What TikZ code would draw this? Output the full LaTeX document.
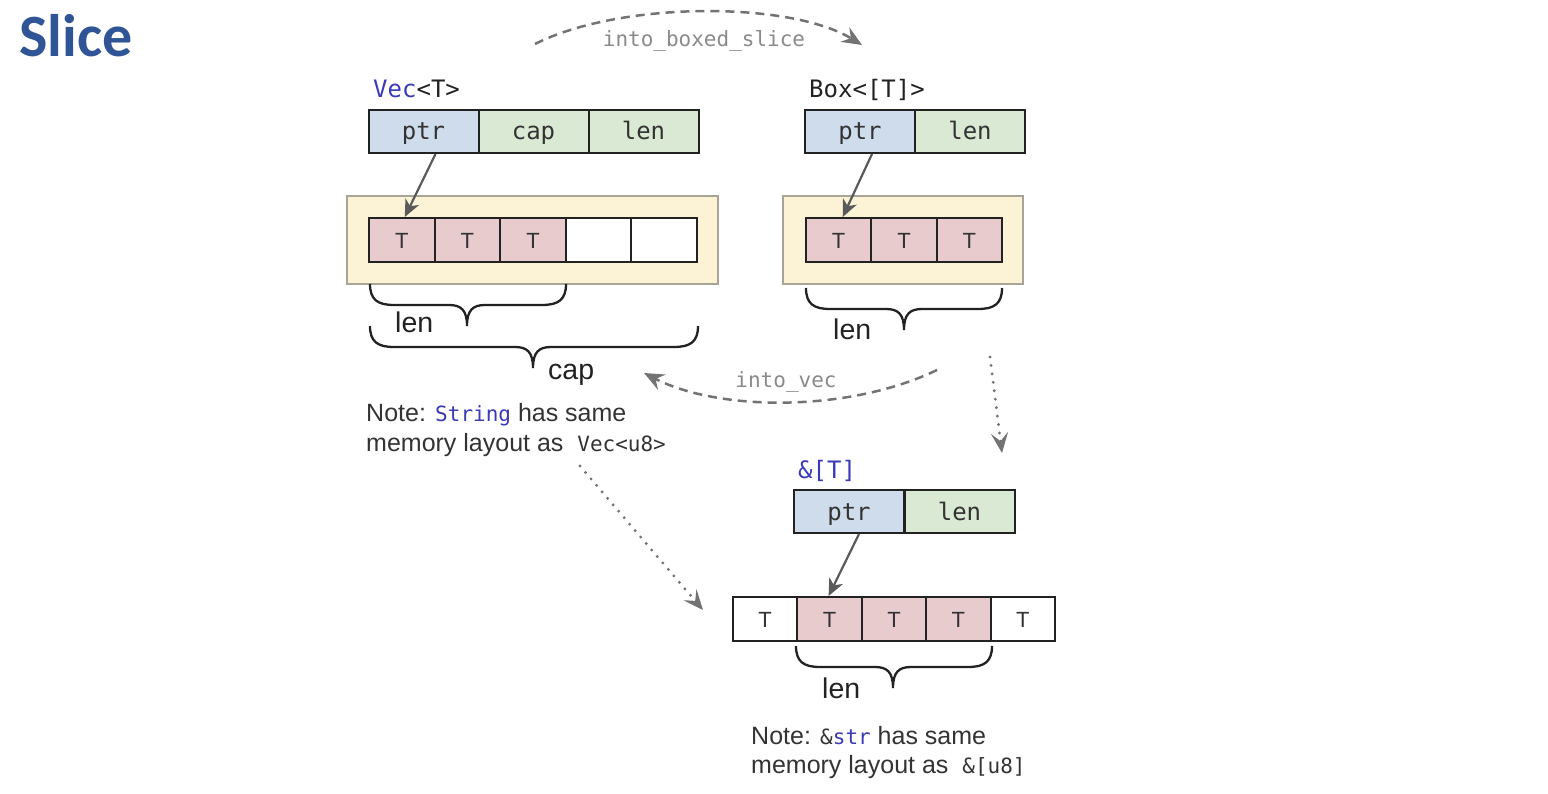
\documentclass[tikz,border=0pt]{standalone}
\usepackage{fontspec}
\setmainfont{Liberation Sans}
\setmonofont{DejaVu Sans Mono}
\newfontfamily\titlefont{Carlito}
\usetikzlibrary{arrows.meta}

\definecolor{titleblue}{HTML}{2F5597}
\definecolor{codeblue}{HTML}{3B3BB8}
\definecolor{ptrblue}{HTML}{CFDCEC}
\definecolor{fieldgreen}{HTML}{D9E9D3}
\definecolor{elempink}{HTML}{E8CBCC}
\definecolor{heapyellow}{HTML}{FCF2D6}
\definecolor{heapborder}{HTML}{A8A598}
\definecolor{arrowgrey}{HTML}{5A5A5A}
\definecolor{labelgrey}{HTML}{8A8A8A}
\definecolor{inkdark}{HTML}{222222}
\definecolor{textdark}{HTML}{333333}

\newcommand{\code}[1]{{\fontsize{21}{25}\selectfont\ttfamily #1}}
\newcommand{\drawcurly}[4]{%
  \draw[bracestyle] (#1,#3) .. controls (#1,{#3+16}) and ({#1+8},{#3+21}) .. ({#1+24},{#3+21})
   -- ({#4-18},{#3+21}) .. controls ({#4-6},{#3+21}) and (#4,{#3+26}) .. (#4,{#3+42})
   .. controls (#4,{#3+26}) and ({#4+6},{#3+21}) .. ({#4+18},{#3+21})
   -- ({#2-24},{#3+21}) .. controls ({#2-8},{#3+21}) and (#2,{#3+16}) .. (#2,#3);}

\tikzset{
  field/.style={draw=inkdark, line width=2pt, minimum height=43pt, minimum width=110pt,
    inner sep=0pt, font=\fontsize{24}{28}\selectfont\ttfamily, text=textdark,
    text height=17pt, text depth=0pt},
  elem/.style={draw=inkdark, line width=2pt, minimum height=44pt, minimum width=65.6pt,
    inner sep=0pt, font=\fontsize{22}{26}\selectfont, text=textdark,
    text height=17pt, text depth=0pt},
  heap/.style={draw=heapborder, fill=heapyellow, line width=2pt, minimum height=88pt, inner sep=0pt},
  typelabel/.style={anchor=base west, inner sep=0pt, font=\fontsize{24}{28}\selectfont\ttfamily, text=inkdark},
  notetext/.style={anchor=base west, inner sep=0pt, font=\fontsize{25}{30}\selectfont, text=textdark},
  bracelabel/.style={anchor=base west, inner sep=0pt, font=\fontsize{28.5}{32}\selectfont, text=inkdark},
  arclabel/.style={anchor=base, inner sep=0pt, font=\fontsize{21}{25}\selectfont\ttfamily, text=labelgrey},
  bracestyle/.style={draw=inkdark, line width=2.3pt},
  ptrarrow/.style={draw=arrowgrey, line width=2.2pt, -{Stealth[length=17pt,width=15pt,inset=5pt]}},
  arcarrow/.style={draw=arrowgrey!85, line width=2.5pt, dash pattern=on 9pt off 6pt,
    -{Stealth[length=20pt,width=17pt,inset=7pt]}},
  dotarrow/.style={draw=arrowgrey!85, line width=3.2pt, line cap=round, dash pattern=on 0pt off 8.5pt,
    -{Stealth[length=20pt,width=17pt,inset=8pt]}},
}

\begin{document}
\begin{tikzpicture}[x=1pt,y=-1pt]
\useasboundingbox (0,0) rectangle (1548,794);

% title
\node[anchor=base west, inner sep=0pt, font=\titlefont\bfseries\fontsize{60}{70}\selectfont, text=titleblue] (title) at (19,57) {Slice};

% ---------- Vec<T> ----------
\node[typelabel] (veclabel) at (373,98) {\textcolor{codeblue}{Vec}<T>};
\node[field, fill=ptrblue]    (vptr) at (423.5,131.5) {ptr};
\node[field, fill=fieldgreen] (vcap) at (533.5,131.5) {cap};
\node[field, fill=fieldgreen] (vlen) at (643.5,131.5) {len};

\node[heap, minimum width=371pt] (vheap) at (532.5,240) {};
\node[elem, fill=elempink] (vc1) at (401.8,240) {T};
\node[elem, fill=elempink] (vc2) at (467.4,240) {T};
\node[elem, fill=elempink] (vc3) at (533.0,240) {T};
\node[elem, fill=white]    (vc4) at (598.6,240) {};
\node[elem, fill=white]    (vc5) at (664.2,240) {};
\draw[ptrarrow] ([xshift=12pt]vptr.south) -- ([xshift=3pt]vc1.north);

\drawcurly{370}{566}{284}{467}
\node[bracelabel] (veclen) at (395,333) {len};
\drawcurly{370}{698}{326}{533}
\node[bracelabel] (veccap) at (548,380) {cap};

% ---------- Box<[T]> ----------
\node[typelabel] (boxlabel) at (809,98) {Box<[T]>};
\node[field, fill=ptrblue]    (bptr) at (860,131.5) {ptr};
\node[field, fill=fieldgreen] (blen) at (970,131.5) {len};

\node[heap, minimum width=240pt] (bheap) at (903,240) {};
\node[elem, fill=elempink] (bc1) at (838.7,240) {T};
\node[elem, fill=elempink] (bc2) at (904.0,240) {T};
\node[elem, fill=elempink] (bc3) at (969.3,240) {T};
\draw[ptrarrow] ([xshift=12pt]bptr.south) -- ([xshift=4pt]bc1.north);

\drawcurly{806}{1002}{288}{904}
\node[bracelabel] (boxlen) at (833,340) {len};

% ---------- &[T] ----------
\node[typelabel, text=codeblue] (slicelabel) at (798,478) {\&[T]};
\node[field, fill=ptrblue]    (sptr) at (849,511.5) {ptr};
\node[field, fill=fieldgreen] (slen) at (959.5,511.5) {len};

\node[elem, fill=white, minimum width=64.4pt]    (sc1) at (765.2,619) {T};
\node[elem, fill=elempink, minimum width=64.4pt] (sc2) at (829.6,619) {T};
\node[elem, fill=elempink, minimum width=64.4pt] (sc3) at (894.0,619) {T};
\node[elem, fill=elempink, minimum width=64.4pt] (sc4) at (958.4,619) {T};
\node[elem, fill=white, minimum width=64.4pt]    (sc5) at (1022.8,619) {T};
\draw[ptrarrow] ([xshift=10pt]sptr.south) -- ([xshift=-1pt]sc2.north);

\drawcurly{796}{992}{646}{893}
\node[bracelabel] (slicelen) at (822,698) {len};

% ---------- notes ----------
\node[notetext] (note1a) at (366,421) {Note: \textcolor{codeblue}{\code{String}} has same};
\node[notetext] (note1b) at (366,451) {memory layout as \ \code{Vec<u8>}};
\node[notetext] (note2a) at (751,744) {Note: \code{\&\textcolor{codeblue}{str}} has same};
\node[notetext] (note2b) at (751,773) {memory layout as \ \code{\&[u8]}};

% ---------- conversions ----------
\coordinate (ibsA) at (535,44);
\coordinate (ibsB) at (862,45);
\draw[arcarrow] (ibsA) .. controls (620,1) and (790,1) .. (ibsB);
\node[arclabel] (ibslabel) at (704,47) {into\_boxed\_slice};

\coordinate (ivA) at (937,370);
\coordinate (ivB) at (644,373);
\draw[arcarrow] (ivA) .. controls (850,412) and (720,412) .. (ivB);
\node[arclabel] (ivlabel) at (786,387) {into\_vec};

\coordinate (dvA) at (990,357);
\coordinate (dvB) at (1002,453);
\draw[dotarrow] (dvA) -- (dvB);

\coordinate (ddA) at (580,466);
\coordinate (ddB) at (703,610);
\draw[dotarrow] (ddA) -- (ddB);
\end{tikzpicture}
\end{document}
